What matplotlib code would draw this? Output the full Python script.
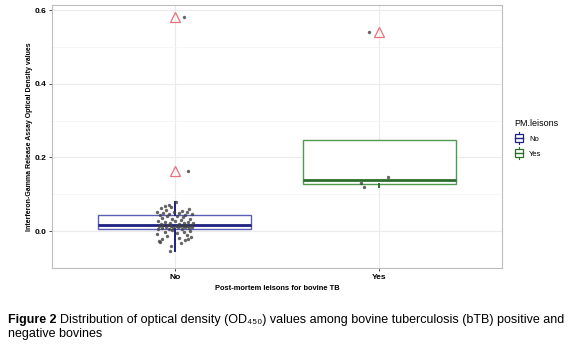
import matplotlib
matplotlib.use("Agg")
import matplotlib.pyplot as plt
from matplotlib.patches import Patch, Rectangle
from matplotlib.lines import Line2D
from matplotlib.legend_handler import HandlerBase
import numpy as np

plt.rcParams['font.family'] = ['Liberation Sans', 'DejaVu Sans']

groups = ["No", "Yes"]

# OD values, No group (sorted)
no_values = [-0.053,
             -0.040, -0.032, -0.030, -0.027, -0.025, -0.022, -0.020, -0.018, -0.015,
             -0.012, -0.010, -0.008, -0.005, -0.003, -0.001, 0.001, 0.003,
             0.005, 0.006, 0.007, 0.008, 0.009, 0.010, 0.010, 0.011, 0.012,
             0.012, 0.013, 0.013, 0.014, 0.014, 0.015, 0.015, 0.016, 0.016,
             0.017, 0.018, 0.019, 0.020, 0.021, 0.022, 0.023, 0.024, 0.025,
             0.027, 0.028, 0.030, 0.032, 0.034, 0.036, 0.038, 0.040, 0.042,
             0.044, 0.045, 0.046, 0.047, 0.048, 0.050, 0.051, 0.052, 0.053,
             0.055, 0.057, 0.060, 0.062, 0.065, 0.068, 0.072, 0.079,
             0.164, 0.582]
no_jitter = [-0.024,
             -0.02, 0.03, -0.07, -0.075, 0.05, 0.065, -0.06, 0.02, 0.08,
             -0.04, 0.06, -0.085, 0.01, 0.045, -0.05, 0.075, -0.015,
             -0.08, 0.035, -0.03, 0.07, -0.06, 0.015, 0.05, -0.045, 0.085,
             -0.01, 0.025, -0.075, 0.06, -0.02, 0.04, 0.005, -0.055, 0.08,
             -0.035, 0.055, -0.065, 0.02, 0.09, -0.025, 0.045, -0.05, 0.065,
             0.0, -0.08, 0.03, -0.015, 0.075, -0.06, 0.04, -0.04, 0.01,
             -0.07, 0.05, -0.03, 0.085, -0.055, 0.02, -0.085, 0.06, -0.005,
             0.035, -0.045, 0.07, -0.065, -0.02, -0.05, -0.03, 0.005,
             0.063, 0.044]

yes_values = [0.542, 0.148, 0.132, 0.119]
yes_jitter = [-0.05, 0.045, -0.09, -0.073]

edge_cols = ['#5a5eb4', '#4f9a4f']
dark_cols = ['#1d2180', '#2d6e2d']


class BoxKey(HandlerBase):
    # small boxplot glyph like ggplot's legend key
    def create_artists(self, legend, orig, xd, yd, w, h, fontsize, trans):
        c = orig.get_edgecolor()
        x0, x1 = xd + w * 0.1, xd + w * 0.9
        xm = xd + w * 0.5
        bx = Rectangle((x0, yd - h * 0.15), x1 - x0, h * 1.3,
                       facecolor='white', edgecolor=c, linewidth=0.9, transform=trans)
        med = Line2D([x0, x1], [yd + h * 0.5] * 2, color=c,
                     linewidth=1.0, transform=trans)
        up = Line2D([xm, xm], [yd + h * 1.15, yd + h * 1.5], color=c,
                    linewidth=0.8, transform=trans)
        dn = Line2D([xm, xm], [yd - h * 0.5, yd - h * 0.15], color=c,
                    linewidth=0.8, transform=trans)
        return [bx, med, up, dn]


fig = plt.figure(figsize=(5.8, 3.45), dpi=100)
ax = fig.add_axes([0.0897, 0.2232, 0.7758, 0.7623])

for i, vals in enumerate([no_values, yes_values]):
    ax.boxplot([vals], positions=[i + 1], widths=0.75, whis=1.5,
               showcaps=False, patch_artist=True,
               boxprops=dict(facecolor='white', edgecolor=edge_cols[i], linewidth=1.0),
               medianprops=dict(color=dark_cols[i], linewidth=2.0),
               whiskerprops=dict(color=dark_cols[i], linewidth=1.4),
               flierprops=dict(marker='^', markersize=7, markerfacecolor='none',
                               markeredgecolor='#e8707a', markeredgewidth=0.9),
               zorder=2)

ax.scatter(1 + np.array(no_jitter), no_values, s=6, color='#404040', alpha=0.8,
           zorder=3, linewidths=0)
ax.scatter(2 + np.array(yes_jitter), yes_values, s=6, color='#404040', alpha=0.8,
           zorder=3, linewidths=0)

ax.set_xlim(0.4, 2.6)
ax.set_ylim(-0.083, 0.614)
ax.set_xticks([1, 2])
ax.set_xticklabels(groups, fontsize=6, fontweight='bold')
ax.set_yticks([0.0, 0.2, 0.4, 0.6])
ax.set_yticklabels(['0.0', '0.2', '0.4', '0.6'], fontsize=6, fontweight='bold')
ax.set_yticks([-0.1, 0.1, 0.3, 0.5], minor=True)
ax.tick_params(axis='both', length=2, width=0.6, color='#333333', pad=2)
ax.tick_params(axis='y', which='minor', length=0)
ax.grid(True, which='major', color='#ebebeb', linewidth=0.8)
ax.grid(True, which='minor', axis='y', color='#f3f3f3', linewidth=0.5)
ax.set_axisbelow(True)
for s in ax.spines.values():
    s.set_color('#bdbdbd')
    s.set_linewidth(0.8)

ax.set_xlabel('Post-mortem leisons for bovine TB', fontsize=5.4, fontweight='bold', labelpad=3)
ax.set_ylabel('Interferon-Gamma Release Assay Optical Density values', fontsize=5.0,
              fontweight='bold', labelpad=1)

handles = [Patch(facecolor='white', edgecolor=dark_cols[i], linewidth=1.0, label=g)
           for i, g in enumerate(groups)]
leg = fig.legend(handles=handles, title='PM.leisons', loc='upper left',
                 bbox_to_anchor=(0.875, 0.675), frameon=False, fontsize=5.5,
                 title_fontsize=6.5, handlelength=1.3, handleheight=0.8,
                 handletextpad=0.6, labelspacing=1.0,
                 handler_map={Patch: BoxKey()})
leg._legend_box.align = 'left'

# caption: bold label followed by plain text
fig.canvas.draw()
renderer = fig.canvas.get_renderer()
lab = fig.text(0.014, 0.064, 'Figure 2', fontsize=9, fontweight='bold', va='baseline')
bb = lab.get_window_extent(renderer=renderer)
x1 = bb.x1 / fig.bbox.width
fig.text(x1 + 0.006, 0.064,
         'Distribution of optical density (OD\u2084\u2085\u2080) values among '
         'bovine tuberculosis (bTB) positive and',
         fontsize=9, va='baseline')
fig.text(0.014, 0.023, 'negative bovines', fontsize=9, va='baseline')

fig.savefig('out.png', dpi=100)
